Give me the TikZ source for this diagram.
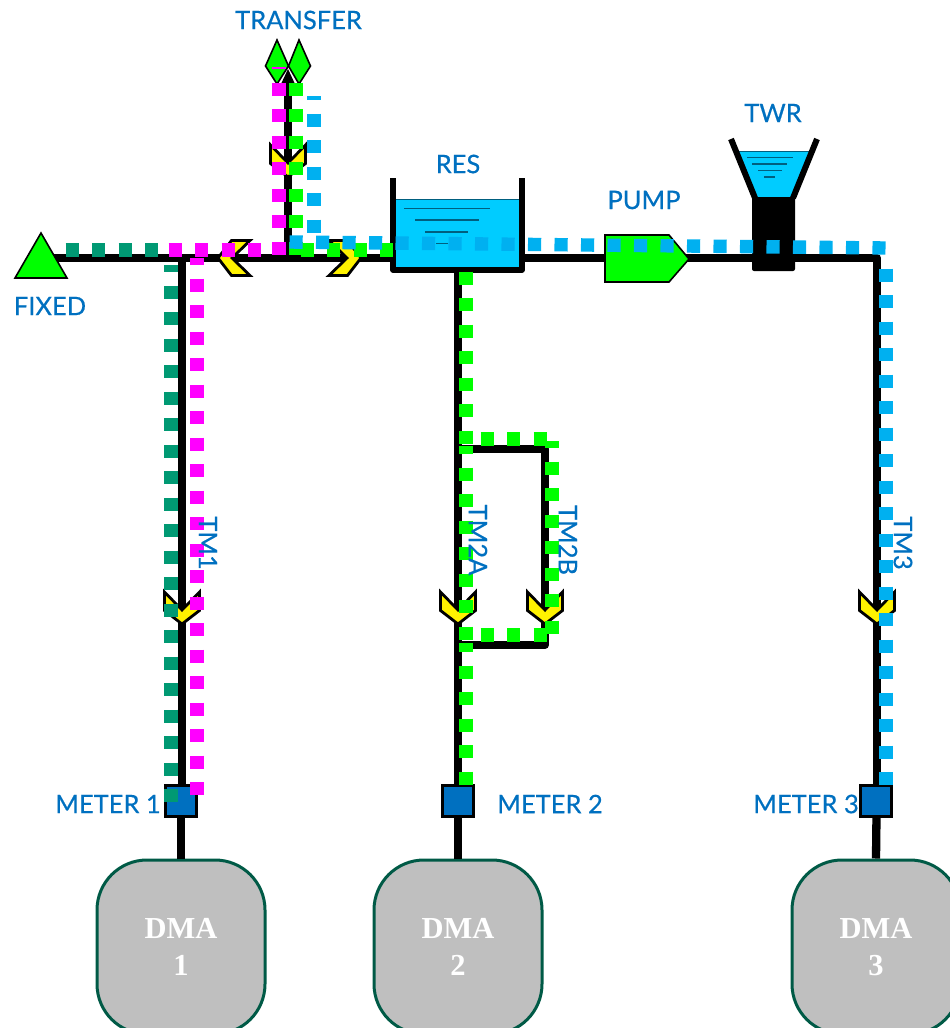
\documentclass[tikz,border=0pt]{standalone}
\usepackage{fontspec}
\setmainfont{Lato}
\newfontfamily\lblfont[FakeBold=0.5]{Lato}
\newfontfamily\dmafont{Liberation Serif}
\definecolor{lbl}{HTML}{0070C0}
\definecolor{wat}{HTML}{00CCFF}
\definecolor{wline}{HTML}{005F7F}
\definecolor{cblue}{HTML}{00B0F0}
\definecolor{cteal}{HTML}{009973}
\definecolor{cmag}{HTML}{FF00FF}
\definecolor{cgreen}{HTML}{00FF00}
\definecolor{dmaedge}{HTML}{005A46}
\definecolor{dmafill}{HTML}{BFBFBF}
\tikzset{
 pipe/.style={draw=black,line width=8.3pt,line join=round},
 dots/.style={line width=13.4pt,dash pattern=on 13.2pt off 13.3pt},
 chev/.style={draw=black,fill=yellow,line width=2.8pt,line join=miter},
 lab/.style={text=lbl,font=\lblfont\fontsize{25.5}{25.5}\selectfont,inner sep=0pt},
 meter/.style={draw=black,fill=lbl,line width=2.5pt,minimum size=31pt,inner sep=0pt},
 dma/.style={draw=dmaedge,fill=dmafill,line width=3pt,rounded corners=50pt,minimum width=168pt,minimum height=174pt,inner sep=0pt,
   text=white,font=\dmafont\bfseries\fontsize{30.5}{37}\selectfont,align=center},
 wl/.style={draw=wline,line width=1.3pt},
}
\newcommand{\chevron}[3]{% x y rot
 \path[chev,shift={(#1,#2)},rotate=#3] (0,0) -- (-17.5,-18) -- (-17.5,0.5) -- (0,14) -- (17.5,0.5) -- (17.5,-18) -- cycle;}
\begin{document}
\begin{tikzpicture}[x=1pt,y=-1pt]
\useasboundingbox (0,0) rectangle (950,1028);
% junctions and ends
\coordinate (J1) at (182,258);
\coordinate (J2) at (288,258);
\coordinate (Fx) at (41,258);
\coordinate (C3) at (877,258);
\coordinate (B1) at (458,449);
\coordinate (B2) at (545,449);
\coordinate (B3) at (545,645);
\coordinate (B4) at (458,645);
% DMA + meters
\node[dma] (dma1) at (181,947) {DMA\\1};
\node[dma] (dma2) at (458,947) {DMA\\2};
\node[dma] (dma3) at (876,947) {DMA\\3};
% pipes
\draw[pipe] (Fx) -- (C3) -- (877,790);
\draw[pipe] (J1) -- (182,790);
\draw[pipe] (181,815) -- (dma1.north);
\draw[pipe] (458,815) -- (dma2.north);
\draw[pipe] (876.5,815) -- (dma3.north);
\draw[pipe] (458,268) -- (458,790);
\draw[pipe] (B1) -- (B2) -- (B3) -- (B4);
\node[meter] (m1) at (181,801) {};
\node[meter] (m2) at (458,801) {};
\node[meter] (m3) at (876,801) {};
% transfer
\draw[fill=cgreen,line width=1.6pt] (277,40) -- (288.5,66) -- (277,84) -- (265.5,66) -- cycle;
\draw[fill=cgreen,line width=1.6pt] (299,40) -- (310.5,66) -- (299,84) -- (288.5,66) -- cycle;
\draw[black,line width=8.3pt] (J2) -- (288,82);
\fill[black] (288,69) -- (295,84) -- (281,84) -- cycle;
% fixed
\draw[fill=cgreen,line width=1.6pt,line join=miter] (41,233) -- (67,278) -- (15,278) -- cycle;
% pump
\draw[fill=cgreen,line width=1.6pt] (605,235) -- (669,235) -- (689,259) -- (669,282) -- (605,282) -- cycle;
% tower
\fill[wat] (738,151) -- (810,151) -- (793,198) -- (756,198) -- cycle;
\draw[wl,line width=.8pt] (738,151) -- (810,151);
\draw[wl] (747,157.5) -- (793,157.5);
\draw[wl] (752,164) -- (787,164);
\draw[wl] (758,170.5) -- (782,170.5);
\draw[wl] (764,177) -- (775,177);
\draw[black,line width=6pt] (731,139) -- (755,198);
\draw[black,line width=6pt] (817,139) -- (793,198);
\fill[black,rounded corners=2pt] (752,197) rectangle (795,271);
% reservoir
\fill[wat] (393,199) rectangle (522,270);
\draw[wl,line width=1.5pt] (396,199.5) -- (519,199.5);
\draw[wl] (404,208.5) -- (490,208.5);
\draw[wl] (415,220) -- (479,220);
\draw[wl] (425,232) -- (468,232);
\draw[wl] (436,243.5) -- (448,243.5);
\draw[black,line width=5.5pt,line join=round] (393,178) -- (393,270) -- (522,270) -- (522,178);
% chevrons
\chevron{182}{610}{0}
\chevron{458}{610}{0}
\chevron{545}{610}{0}
\chevron{877}{610}{0}
\chevron{288}{163}{0}
\chevron{232}{258}{-90}
\chevron{347}{258}{90}
% dotted routes
\draw[cteal,dots] (65.5,250) -- (158.5,250);
\draw[cteal,dots,dash phase=6pt] (171,265) -- (171,802);
\draw[cmag,dots,dash phase=11pt] (279,67) -- (279,255);
\draw[cmag,dots] (168.5,250) -- (261,250);
\draw[cmag,dots,dash phase=6pt] (197,258) -- (197,795);
\draw[cgreen,dots] (296,82.5) -- (296,255);
\draw[cgreen,dots] (300.5,250) -- (393.5,250);
\draw[cgreen,dots] (466,271.5) -- (466,443.5);
\draw[cgreen,dots,dash phase=5pt] (466,446) -- (466,640);
\draw[cgreen,dots,dash phase=4pt] (466,643) -- (466,785);
\draw[cgreen,dots] (480.5,439) -- (546.5,439);
\draw[cgreen,dots,dash phase=6pt] (552,441) -- (552,634);
\draw[cgreen,dots] (480.5,635) -- (546.5,635);
\draw[cblue,dots,dash phase=9pt] (314,96) -- (314,232.5);
\draw[cblue,dots] (289.5,242) -- (885.5,248);
\draw[cblue,dots] (886,268.5) -- (886,785);
% labels
\node[lab] (tTransfer) at (298.5,20) {TRANSFER};
\node[lab] (tRes) at (458,164) {RES};
\node[lab] (tPump) at (644,200) {PUMP};
\node[lab] (tTwr) at (773,113) {TWR};
\node[lab] (tFixed) at (50,306) {FIXED};
\node[lab] (tM1) at (108,804) {METER 1};
\node[lab] (tM2) at (550,804) {METER 2};
\node[lab] (tM3) at (806,804) {METER 3};
\node[lab,rotate=-90] (tTM1) at (208,543) {TM1};
\node[lab,rotate=-90] (tTM2A) at (478,540) {TM2A};
\node[lab,rotate=-90] (tTM2B) at (568,540) {TM2B};
\node[lab,rotate=-90] (tTM3) at (903,543) {TM3};
\end{tikzpicture}
\end{document}
